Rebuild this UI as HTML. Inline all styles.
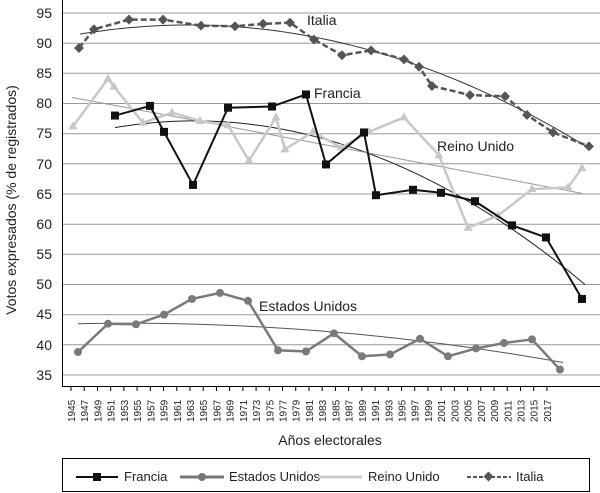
<!DOCTYPE html><html><head><meta charset="utf-8"><style>body{margin:0;background:#fff}svg{display:block;font-family:"Liberation Sans",sans-serif}</style></head><body>
<svg width="600" height="493" viewBox="0 0 600 493">
<g stroke="#999" stroke-width="1">
<line x1="62" x2="600" y1="13" y2="13"/><line x1="62" x2="600" y1="43.2" y2="43.2"/><line x1="62" x2="600" y1="73.3" y2="73.3"/><line x1="62" x2="600" y1="103.5" y2="103.5"/><line x1="62" x2="600" y1="133.7" y2="133.7"/><line x1="62" x2="600" y1="163.8" y2="163.8"/><line x1="62" x2="600" y1="194" y2="194"/><line x1="62" x2="600" y1="224.2" y2="224.2"/><line x1="62" x2="600" y1="254.3" y2="254.3"/><line x1="62" x2="600" y1="284.5" y2="284.5"/><line x1="62" x2="600" y1="314.7" y2="314.7"/><line x1="62" x2="600" y1="344.8" y2="344.8"/><line x1="62" x2="600" y1="375" y2="375"/>
</g>
<line x1="62.5" y1="0" x2="62.5" y2="386" stroke="#000"/>
<line x1="62" y1="386.5" x2="600" y2="386.5" stroke="#000"/>
<g font-size="14" fill="#222" text-anchor="end">
<text x="52" y="18">95</text><text x="52" y="48">90</text><text x="52" y="78">85</text><text x="52" y="108">80</text><text x="52" y="138">75</text><text x="52" y="169">70</text><text x="52" y="199">65</text><text x="52" y="229">60</text><text x="52" y="259">55</text><text x="52" y="289">50</text><text x="52" y="319">45</text><text x="52" y="350">40</text><text x="52" y="380">35</text>
</g>
<text transform="translate(16,200) rotate(-90)" font-size="14" fill="#222" text-anchor="middle">Votos expresados (% de registrados)</text>
<g id="ticks" stroke="#000"></g>
<g id="yl" font-size="10" fill="#222"></g>
<text x="330" y="445" font-size="14" fill="#222" text-anchor="middle">Años electorales</text>
<g id="tr"></g>
<g id="s"></g>
<g font-size="14" fill="#222"><text x="307" y="25">Italia</text><text x="314" y="98">Francia</text><text x="437" y="151">Reino Unido</text><text x="259" y="311">Estados Unidos</text></g>
<rect x="62.5" y="458.5" width="527" height="33" fill="none" stroke="#000"/>
<g font-size="13" fill="#222">
<line x1="76" y1="477" x2="118" y2="477" stroke="#111" stroke-width="2"/><rect x="93" y="473" width="8" height="8" fill="#111"/><text x="124" y="481">Francia</text>
<line x1="180" y1="477" x2="224" y2="477" stroke="#777" stroke-width="3"/><circle cx="202" cy="477" r="4" fill="#777"/><text x="229" y="481">Estados Unidos</text>
<line x1="318" y1="477" x2="362" y2="477" stroke="#ccc" stroke-width="3"/><text x="368" y="481">Reino Unido</text>
<line x1="467" y1="477" x2="511" y2="477" stroke="#555" stroke-width="2" stroke-dasharray="4,2"/><rect x="485" y="473" width="7" height="7" fill="#555" transform="rotate(45 488.5 476.5)"/><text x="516" y="481">Italia</text>
</g>
</svg>
<script>
const ns="http://www.w3.org/2000/svg";
function Y(v){return 13+(95-v)*6.033}
const t=document.getElementById('ticks'),yl=document.getElementById('yl');
for(let i=0;i<37;i++){const x=71+i*13.22;const l=document.createElementNS(ns,'line');l.setAttribute('x1',x);l.setAttribute('x2',x);l.setAttribute('y1',386);l.setAttribute('y2',391);t.appendChild(l);
const tx=document.createElementNS(ns,'text');tx.setAttribute('transform',`translate(${x+4},${422}) rotate(-90)`);tx.textContent=1945+2*i;yl.appendChild(tx);}
const tr=document.getElementById('tr');
function quad(p,x0,x1,stroke){const f=x=>{let s=0;for(let i=0;i<3;i++){let t=p[i][1];for(let j=0;j<3;j++)if(j!=i)t*=(x-p[j][0])/(p[i][0]-p[j][0]);s+=t;}return s;};
let pts=[];for(let x=x0;x<=x1;x+=5)pts.push(x+','+Y(f(x)));const pl=document.createElementNS(ns,'polyline');pl.setAttribute('points',pts.join(' '));pl.setAttribute('fill','none');pl.setAttribute('stroke',stroke);tr.appendChild(pl);}
quad([[80,91.5],[200,93],[590,72.5]],80,590,'#333');
quad([[115,76],[220,77],[585,50]],115,585,'#222');
quad([[72,81],[330,73],[585,65]],72,585,'#999');
quad([[78,43.5],[320,42.3],[565,37]],78,565,'#555');
const s=document.getElementById('s');
function series(pts,stroke,w,dash,mark){const p=document.createElementNS(ns,'polyline');p.setAttribute('points',pts.map(a=>a[0]+','+Y(a[1])).join(' '));p.setAttribute('fill','none');p.setAttribute('stroke',stroke);p.setAttribute('stroke-width',w);if(dash)p.setAttribute('stroke-dasharray',dash);s.appendChild(p);
pts.forEach(a=>{const x=a[0],y=Y(a[1]);let m;if(mark=='sq'){m=document.createElementNS(ns,'rect');m.setAttribute('x',x-4);m.setAttribute('y',y-4);m.setAttribute('width',8);m.setAttribute('height',8);}
else if(mark=='c'){m=document.createElementNS(ns,'circle');m.setAttribute('cx',x);m.setAttribute('cy',y);m.setAttribute('r',4);}
else if(mark=='d'){m=document.createElementNS(ns,'rect');m.setAttribute('x',x-3.5);m.setAttribute('y',y-3.5);m.setAttribute('width',7);m.setAttribute('height',7);m.setAttribute('transform',`rotate(45 ${x} ${y})`);}
else{m=document.createElementNS(ns,'polygon');m.setAttribute('points',`${x},${y-5} ${x-4.5},${y+3} ${x+4.5},${y+3}`);}
m.setAttribute('fill',stroke);s.appendChild(m);});}
series([[73,76.2],[108,84.1],[114,82.8],[143,76.8],[172,78.5],[200,77.1],[228,76.4],[249,70.5],[276,77.7],[285,72.4],[313,75.3],[341,72.7],[369,75.3],[404,77.7],[439,71.4],[468,59.4],[498,61.4],[532,65.8],[568,66.1],[582,69.3]],'#c8c8c8',2.5,null,'t');
series([[78,38.8],[108,43.5],[136,43.4],[164,45.0],[192,47.6],[220,48.6],[248,47.3],[278,39.1],[306,38.9],[334,41.9],[362,38.1],[390,38.4],[420,41.0],[448,38.1],[476,39.4],[504,40.3],[532,40.9],[560,35.9]],'#7a7a7a',2.5,null,'c');
series([[115,78],[150,79.6],[164,75.3],[193,66.5],[228,79.3],[272,79.5],[306,81.5],[326,69.9],[364,75.2],[376,64.8],[413,65.7],[441,65.2],[475,63.8],[512,59.8],[546,57.8],[582,47.6]],'#111',2,null,'sq');
series([[79,89.2],[94,92.3],[129,93.9],[163,93.9],[201,92.9],[235,92.8],[263,93.2],[290,93.4],[314,90.6],[342,88.0],[371,88.8],[404,87.3],[419,86.1],[432,82.9],[470,81.4],[505,81.2],[527,78.1],[553,75.2],[589,72.9]],'#555',2.5,'6,3','d');
</script>
</body></html>
